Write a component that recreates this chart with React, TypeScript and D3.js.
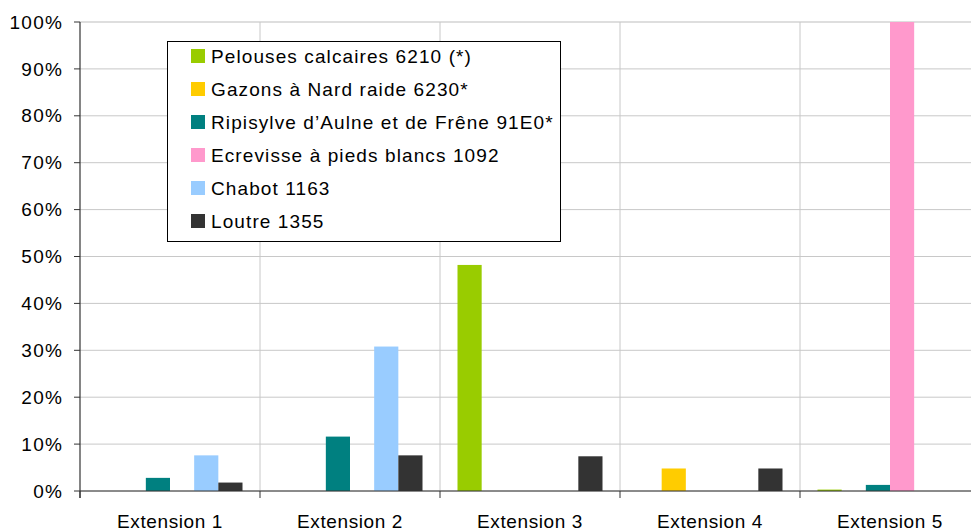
import React from "react";
import * as d3 from "d3";

const categories = ["Extension 1", "Extension 2", "Extension 3", "Extension 4", "Extension 5"];
const seriesNames = [
  "Pelouses calcaires 6210 (*)",
  "Gazons à Nard raide 6230*",
  "Ripisylve d’Aulne et de Frêne 91E0*",
  "Ecrevisse à pieds blancs 1092",
  "Chabot 1163",
  "Loutre 1355",
];
const seriesColors = ["#99CC00", "#FFCC00", "#008080", "#FF99CC", "#99CCFF", "#333333"];
const pelouses = [0, 0, 48.2, 0, 0.3];
const gazons = [0, 0, 0, 4.8, 0];
const ripisylve = [2.8, 11.6, 0, 0, 1.3];
const ecrevisse = [0, 0, 0, 0, 100];
const chabot = [7.6, 30.8, 0, 0, 0];
const loutre = [1.8, 7.6, 7.4, 4.8, 0];
const seriesValues = [pelouses, gazons, ripisylve, ecrevisse, chabot, loutre];
const yTicks = [0, 10, 20, 30, 40, 50, 60, 70, 80, 90, 100];

const W = 971;
const H = 531;
const left = 80;
const right = 980;
const top = 22;
const bottom = 491;
const font = "'Liberation Sans', Arial, sans-serif";

export default function App() {
  const x = d3.scaleBand<string>().domain(categories).range([left, right]).paddingInner(0).paddingOuter(0);
  const inner = d3
    .scaleBand<number>()
    .domain(d3.range(seriesNames.length))
    .range([17.5, x.bandwidth() - 17.5])
    .padding(0);
  const y = d3.scaleLinear().domain([0, 100]).range([bottom, top]);

  return (
    <svg width={W} height={H} style={{ position: "absolute", left: 0, top: 0, background: "#fff" }}>
      <rect x={0} y={0} width={W} height={H} fill="#fff" />
      {/* horizontal grid */}
      {yTicks.map((t) => (
        <line key={"hg" + t} x1={left} x2={right} y1={y(t)} y2={y(t)} stroke={t === 100 ? "#bdbdbd" : "#c8c8c8"} strokeWidth={1} />
      ))}
      {/* vertical grid */}
      {categories.slice(1).map((c) => (
        <line key={"vg" + c} x1={x(c)!} x2={x(c)!} y1={top} y2={bottom} stroke="#c8c8c8" strokeWidth={1} />
      ))}
      {/* bars */}
      {seriesValues.map((vals, si) =>
        vals.map((v, ci) =>
          v > 0 ? (
            <rect
              key={`b${si}-${ci}`}
              x={x(categories[ci])! + inner(si)!}
              y={y(v)}
              width={inner.bandwidth()}
              height={y(0) - y(v)}
              fill={seriesColors[si]}
            />
          ) : null
        )
      )}
      {/* axes */}
      <line x1={left} x2={left} y1={top} y2={bottom + 7} stroke="#333" strokeWidth={1.2} />
      <line x1={left} x2={right} y1={bottom} y2={bottom} stroke="#333" strokeWidth={1.2} />
      {yTicks.map((t) => (
        <line key={"yt" + t} x1={left - 6} x2={left} y1={y(t)} y2={y(t)} stroke="#333" strokeWidth={1} />
      ))}
      {categories.map((c) => (
        <line key={"xt" + c} x1={x(c)!} x2={x(c)!} y1={bottom} y2={bottom + 7} stroke="#333" strokeWidth={1} />
      ))}
      {yTicks.map((t) => (
        <text key={"yl" + t} x={63} y={y(t)} dy="0.35em" textAnchor="end" fontFamily={font} fontSize={19} letterSpacing={1.2} fill="#000">
          {t + "%"}
        </text>
      ))}
      {categories.map((c) => (
        <text key={"xl" + c} x={x(c)! + x.bandwidth() / 2} y={528} textAnchor="middle" fontFamily={font} fontSize={19} letterSpacing={0.6} fill="#000">
          {c}
        </text>
      ))}
      {/* legend */}
      <rect x={167.5} y={41.5} width={393} height={200} fill="#fff" stroke="#000" strokeWidth={1} />
      {seriesNames.map((n, i) => (
        <g key={"lg" + i} transform={`translate(191, ${56 + i * 33})`}>
          <rect x={0} y={-7} width={14} height={14} fill={seriesColors[i]} />
          <text x={20} y={0} dy="0.35em" fontFamily={font} fontSize={19} letterSpacing={1.1} fill="#000">
            {n}
          </text>
        </g>
      ))}
    </svg>
  );
}
